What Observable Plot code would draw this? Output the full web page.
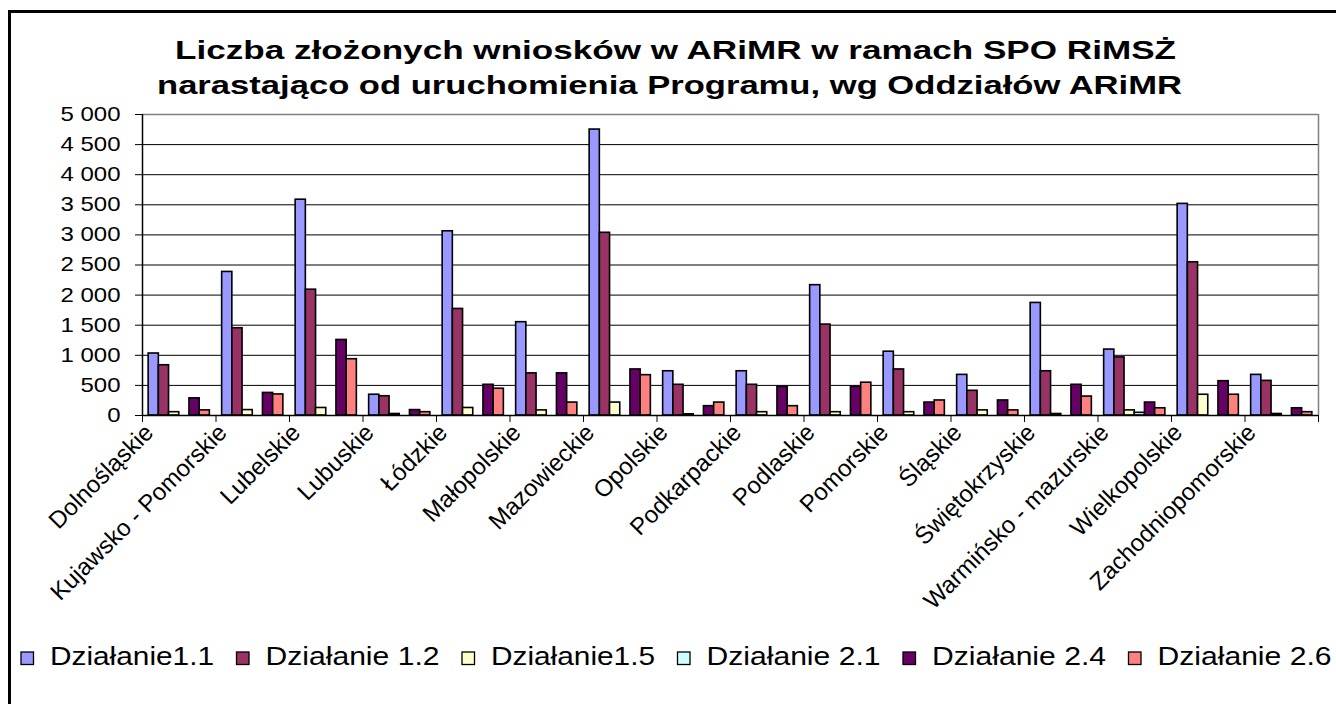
<!DOCTYPE html>
<html>
<head>
<meta charset="utf-8">
<script src="https://cdn.jsdelivr.net/npm/d3@7"></script>
<script src="https://cdn.jsdelivr.net/npm/@observablehq/plot@0.6"></script>
<style>
html, body { margin: 0; padding: 0; background: #fff; }
#wrap { position: relative; width: 1336px; height: 704px; overflow: hidden; background: #fff;
  font-family: Arial, "Liberation Sans", sans-serif; }
#border { position: absolute; left: 8px; top: 10px; width: 2000px; height: 2000px;
  border-left: 3px solid #000; border-top: 3px solid #000; box-sizing: border-box; }
#chart { position: absolute; left: 0; top: 0; }
#title { position: absolute; left: 0; top: 0; }
#legend { position: absolute; left: 0; top: 620px; }
</style>
</head>
<body>
<div id="wrap">
  <div id="border"></div>
  <div id="chart"></div>
  <svg id="title" width="1336" height="110"></svg>
  <svg id="legend" width="1336" height="84"></svg>
</div>
<script>
// ---- data ----
const regions = [
  "Dolnośląskie", "Kujawsko - Pomorskie", "Lubelskie", "Lubuskie", "Łódzkie",
  "Małopolskie", "Mazowieckie", "Opolskie", "Podkarpackie", "Podlaskie",
  "Pomorskie", "Śląskie", "Świętokrzyskie", "Warmińsko - mazurskie",
  "Wielkopolskie", "Zachodniopomorskie"
];
const seriesNames = ["Działanie1.1", "Działanie 1.2", "Działanie1.5", "Działanie 2.1", "Działanie 2.4", "Działanie 2.6"];
const seriesColors = ["#9999FF", "#993366", "#FFFFCC", "#CCFFFF", "#660066", "#FF8080"];

const dzialanie11 = [1030, 2385, 3585, 345, 3060, 1550, 4750, 735, 735, 2165, 1060, 675, 1870, 1095, 3515, 675];
const dzialanie12 = [835, 1450, 2090, 320, 1770, 700, 3035, 510, 510, 1510, 765, 410, 735, 965, 2545, 575];
const dzialanie15 = [55, 90, 125, 25, 125, 85, 215, 20, 55, 55, 55, 85, 25, 85, 345, 25];
const dzialanie21 = [0, 0, 0, 0, 0, 0, 0, 0, 0, 0, 0, 0, 0, 45, 0, 0];
const dzialanie24 = [285, 375, 1255, 90, 510, 700, 765, 155, 475, 475, 215, 250, 510, 215, 570, 120];
const dzialanie26 = [85, 350, 935, 55, 445, 215, 670, 215, 155, 545, 250, 85, 315, 120, 345, 55];

const yTicks = [0, 500, 1000, 1500, 2000, 2500, 3000, 3500, 4000, 4500, 5000];
const titleLines = [
  "Liczba złożonych wniosków w ARiMR w ramach SPO RiMSŻ",
  "narastająco od uruchomienia Programu, wg Oddziałów ARiMR"
];

// ---- table built from the arrays ----
const seriesValues = [dzialanie11, dzialanie12, dzialanie15, dzialanie21, dzialanie24, dzialanie26];
const rows = regions.flatMap((region, ri) =>
  seriesNames.map((series, si) => ({region, ri, series, si, value: seriesValues[si][ri]}))
);

// layout of a group of bars within one category (fractions of the category width)
const BAR = 0.1388;
const PAD = (1 - seriesNames.length * BAR) / 2;

const fmt = d => d3.format(",")(d).replace(/,/g, " ");
const FONT = 'Arial, "Liberation Sans", sans-serif';

const plot = Plot.plot({
  width: 1336,
  height: 620,
  marginTop: 114,
  marginBottom: 205,
  marginLeft: 142,
  marginRight: 18,
  style: {fontFamily: FONT, color: "#000", background: "transparent", overflow: "visible"},
  x: {type: "linear", domain: [0, regions.length], axis: null},
  y: {domain: [0, 5000], axis: null},
  color: {domain: seriesNames, range: seriesColors},
  marks: [
    Plot.ruleY(yTicks.slice(1, -1), {stroke: "#000", strokeWidth: 1}),
    Plot.ruleY([yTicks[yTicks.length - 1]], {stroke: "#808080", strokeWidth: 1.5}),
    Plot.ruleX([regions.length], {stroke: "#808080", strokeWidth: 1.5}),
    Plot.rect(rows, {
      x1: d => d.ri + PAD + d.si * BAR,
      x2: d => d.ri + PAD + (d.si + 1) * BAR,
      y1: () => 0,
      y2: "value",
      fill: "series",
      stroke: "#000",
      strokeWidth: 1.6
    }),
    Plot.ruleX([0], {stroke: "#000", strokeWidth: 1.5}),
    Plot.ruleY([0], {stroke: "#000", strokeWidth: 1.5}),
    Plot.axisY({ticks: yTicks, tickSize: 7, tickPadding: 15, tickFormat: fmt, fontSize: 20, label: null}),
    Plot.axisX({ticks: d3.range(regions.length + 1), tickSize: 7, tickFormat: () => "", label: null}),
    Plot.text(regions, {
      x: (d, i) => i + 0.5, y: () => 0, text: d => d,
      rotate: -45, textAnchor: "end", lineAnchor: "middle",
      dx: -30, dy: 13, fontSize: 24, fill: "#000"
    })
  ]
});
document.getElementById("chart").appendChild(plot);

// horizontal stretch of the y tick labels (as in the reference image)
function stretchText(nodes, s) {
  nodes.forEach(t => {
    const tr = t.getAttribute("transform") || "";
    const m = tr.match(/translate\(\s*([-\d.e]+)[\s,]+([-\d.e]+)\s*\)/);
    if (m) {
      t.setAttribute("transform", tr.replace(m[0], `translate(${m[1]},${m[2]}) scale(${s},1)`));
    } else {
      const x = +(t.getAttribute("x") || 0), y = +(t.getAttribute("y") || 0);
      t.removeAttribute("x"); t.removeAttribute("y");
      t.setAttribute("transform", `translate(${x},${y}) scale(${s},1) ${tr}`);
    }
  });
}
stretchText(plot.querySelectorAll('g[aria-label="y-axis tick label"] text'), 1.2);

// ---- title ----
const NS = "http://www.w3.org/2000/svg";
const titleSvg = document.getElementById("title");
const titleSpec = [{x: 675.5, y: 59, w: 1001}, {x: 669.5, y: 94, w: 1025}];
titleLines.forEach((line, i) => {
  const t = document.createElementNS(NS, "text");
  t.setAttribute("x", titleSpec[i].x);
  t.setAttribute("y", titleSpec[i].y);
  t.setAttribute("text-anchor", "middle");
  t.setAttribute("font-family", FONT);
  t.setAttribute("font-weight", "bold");
  t.setAttribute("font-size", "26");
  t.setAttribute("textLength", titleSpec[i].w);
  t.setAttribute("lengthAdjust", "spacingAndGlyphs");
  t.textContent = line;
  titleSvg.appendChild(t);
});

// ---- legend ----
const legendSvg = document.getElementById("legend");
let lx = 21;
seriesNames.forEach((name, i) => {
  const r = document.createElementNS(NS, "rect");
  r.setAttribute("x", lx); r.setAttribute("y", 32);
  r.setAttribute("width", 12.5); r.setAttribute("height", 12.5);
  r.setAttribute("fill", seriesColors[i]); r.setAttribute("stroke", "#000"); r.setAttribute("stroke-width", 1.3);
  legendSvg.appendChild(r);
  const w = name.includes(" ") ? 174 : 164;
  const t = document.createElementNS(NS, "text");
  t.setAttribute("x", lx + 29); t.setAttribute("y", 44.5);
  t.setAttribute("font-family", FONT);
  t.setAttribute("font-size", "25.5");
  t.setAttribute("textLength", w);
  t.setAttribute("lengthAdjust", "spacingAndGlyphs");
  t.textContent = name;
  legendSvg.appendChild(t);
  lx += 29 + w + 22.5;
});
</script>
</body>
</html>
